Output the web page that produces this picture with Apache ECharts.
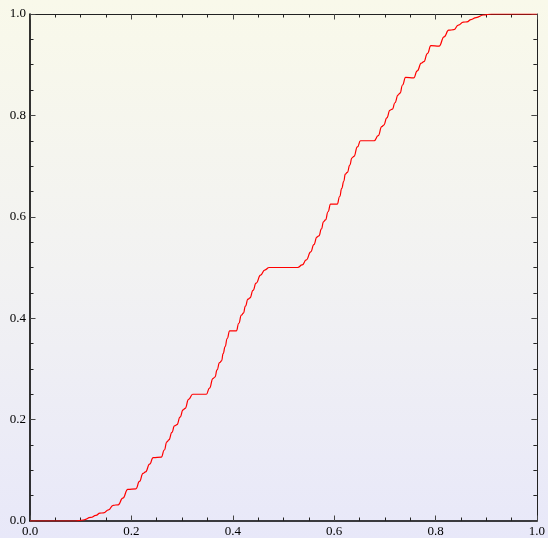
<!DOCTYPE html>
<html>
<head>
<meta charset="utf-8">
<script src="https://cdn.jsdelivr.net/npm/echarts@6/dist/echarts.min.js"></script>
<style>
html,body{margin:0;padding:0;}
body{background:linear-gradient(to bottom,#f9f9ea 0%,#f2f2f2 50%,#e8e8f9 100%);}
#c{width:548px;height:538px;}
</style>
</head>
<body>
<div id="c"></div>
<script>
const xs = [0,0.09,0.105,0.12,0.13,0.138,0.145,0.155,0.164,0.174,0.183,0.193,0.209,0.216,0.223,0.228,0.236,0.243,0.259,0.265,0.27,0.274,0.28,0.285,0.29,0.296,0.302,0.306,0.313,0.321,0.348,0.354,0.361,0.365,0.369,0.374,0.378,0.381,0.385,0.389,0.394,0.407,0.412,0.417,0.421,0.425,0.43,0.434,0.44,0.446,0.455,0.463,0.472,
0.528,0.537,0.545,0.554,0.56,0.566,0.57,0.575,0.579,0.583,0.588,0.593,0.606,0.611,0.615,0.619,0.622,0.626,0.631,0.635,0.639,0.646,0.652,0.679,0.687,0.694,0.698,0.704,0.71,0.715,0.72,0.726,0.73,0.735,0.741,0.757,0.764,0.772,0.777,0.784,0.791,0.807,0.817,0.826,0.836,0.845,0.855,0.862,0.87,0.88,0.895,0.91,1];
const ys = [0,0,0.002,0.007,0.011,0.0156,0.016,0.022,0.031,0.032,0.045,0.0625,0.0635,0.078,0.094,0.097,0.112,0.125,0.126,0.14,0.156,0.16,0.175,0.1875,0.19,0.205,0.219,0.222,0.24,0.25,0.25,0.262,0.281,0.284,0.298,0.3125,0.316,0.33,0.344,0.36,0.375,0.375,0.39,0.406,0.41,0.424,0.4375,0.44,0.455,0.469,0.485,0.495,0.5,
0.5,0.505,0.515,0.531,0.545,0.56,0.5625,0.576,0.59,0.594,0.61,0.625,0.625,0.64,0.656,0.67,0.684,0.6875,0.702,0.716,0.719,0.738,0.75,0.75,0.76,0.778,0.781,0.795,0.81,0.8125,0.825,0.84,0.844,0.86,0.875,0.874,0.888,0.903,0.906,0.922,0.9375,0.9365,0.955,0.968,0.969,0.978,0.984,0.9844,0.989,0.993,0.998,1,1];
const tickLabels = ['0.0','0.2','0.4','0.6','0.8','1.0'];

const chart = echarts.init(document.getElementById('c'), null, {renderer:'canvas'});
const font = {fontFamily:'Liberation Serif', fontSize:13, color:'#000'};
function axisBase(pos, showLabel, lineW, lineColor){
  return {
    type:'value', position:pos, min:0, max:1, interval:0.2,
    axisLine:{show:true, onZero:false, lineStyle:{color:lineColor, width:lineW}},
    axisTick:{show:true, inside:true, length:5.5, lineStyle:{color:'#444', width:1}},
    minorTick:{show:true, splitNumber:4, length:3.5, lineStyle:{color:'#222', width:1}},
    splitLine:{show:false},
    axisLabel:{show:showLabel, margin:4, ...font, formatter:v=>tickLabels[Math.round(v*5)]}
  };
}
const data = xs.map((x,i)=>[x, ys[i]]);
chart.setOption({
  backgroundColor:'transparent',
  animation:false,
  grid:{left:30, right:10, top:14, bottom:16, containLabel:false},
  xAxis:[axisBase('bottom', true, 1.6, '#000'), axisBase('top', false, 1, '#222')],
  yAxis:[axisBase('left', true, 1.6, '#000'), axisBase('right', false, 1, '#222')],
  series:[{
    type:'line', xAxisIndex:0, yAxisIndex:0, data:data,
    showSymbol:false, smooth:0.5, smoothMonotone:'x',
    lineStyle:{color:'#ff0000', width:1.2}
  }]
});
</script>
</body>
</html>
